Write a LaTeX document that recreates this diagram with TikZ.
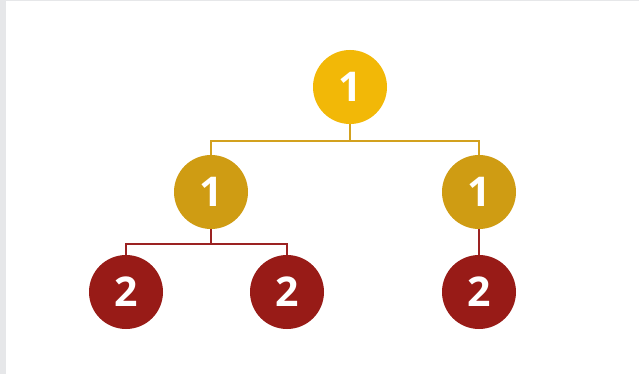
\documentclass[tikz,border=0pt]{standalone}
\usepackage{fontspec}
\setmainfont{Open Sans}
\definecolor{topc}{HTML}{F2B807}
\definecolor{midc}{HTML}{CF9C13}
\definecolor{lowc}{HTML}{981B17}
\definecolor{goldline}{HTML}{D3A11E}
\definecolor{redline}{HTML}{9B2222}
\definecolor{edgegray}{HTML}{E6E7E9}
\begin{document}
\begin{tikzpicture}[x=1pt,y=-1pt,
  bubble/.style={circle,minimum size=74pt,inner sep=0pt,text=white,font=\fontsize{41}{41}\selectfont\bfseries},
  goldlink/.style={draw=goldline,line width=2.6pt},
  redlink/.style={draw=redline,line width=2.6pt}]
\fill[white] (0,0) rectangle (639,374);
\useasboundingbox (0,0) rectangle (639,374);
\fill[edgegray] (0,0) rectangle (6,374);
\fill[edgegray] (0,0) rectangle (639,1.5);
\node[bubble,fill=topc] (r) at (350,87) {1};
\node[bubble,fill=midc] (a) at (211,192) {1};
\node[bubble,fill=midc] (b) at (479,192) {1};
\node[bubble,fill=lowc] (a1) at (126,292) {2};
\node[bubble,fill=lowc] (a2) at (287,292) {2};
\node[bubble,fill=lowc] (b1) at (479,292) {2};
\coordinate (j1) at (350,141);
\coordinate (j2) at (211,244);
\begin{scope}[on background layer/.style={}]
\path[goldlink] (r.south) -- (j1);
\path[goldlink] (a.north) |- (j1) -| (b.north);
\path[redlink] (a.south) -- (j2);
\path[redlink] (a1.north) |- (j2) -| (a2.north);
\path[redlink] (b.south) -- (b1.north);
\end{scope}
\end{tikzpicture}
\end{document}
